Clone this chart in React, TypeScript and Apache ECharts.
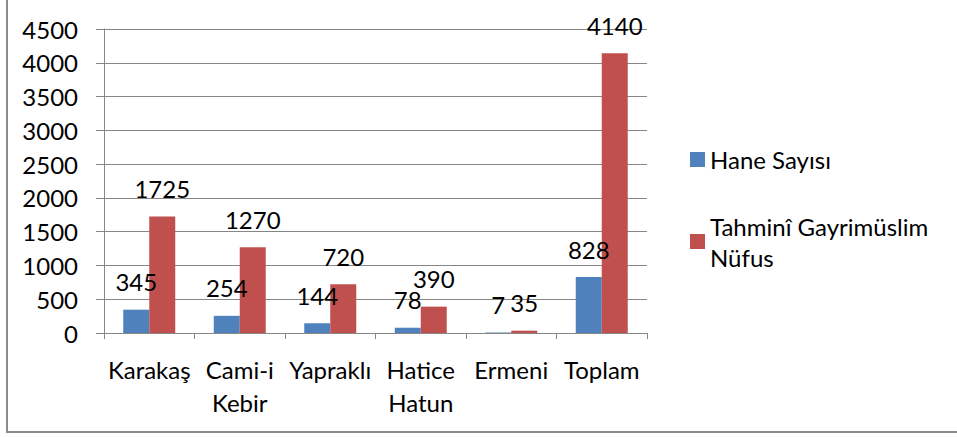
import React, { useEffect, useRef } from "react";
import * as echarts from "echarts";

const categories = ["Karakaş", "Cami-i Kebir", "Yapraklı", "Hatice Hatun", "Ermeni", "Toplam"];
const seriesNames = ["Hane Sayısı", "Tahminî Gayrimüslim Nüfus"];
const haneSayisi = [345, 254, 144, 78, 7, 828];
const nufus = [1725, 1270, 720, 390, 35, 4140];
const yTicks = { min: 0, max: 4500, interval: 500 };

const FONT = "Lato";
const FS = 24;
const GRID_COLOR = "#868686";

export default function App() {
  const ref = useRef<HTMLDivElement>(null);
  useEffect(() => {
    if (!ref.current) return;
    const chart = echarts.init(ref.current, undefined, { renderer: "svg" });
    const labelStyle = {
      show: true,
      position: "top" as const,
      distance: 16,
      color: "#000",
      fontFamily: FONT,
      fontSize: FS,
      lineHeight: 24,
    };
    chart.setOption({
      animation: false,
      backgroundColor: "#fff",
      textStyle: { fontFamily: FONT },
      grid: { left: 104, right: 310, top: 29, bottom: 104 },
      xAxis: {
        type: "category",
        data: categories,
        axisLine: { show: true, lineStyle: { color: GRID_COLOR, width: 1 } },
        axisTick: { show: true, length: 6, lineStyle: { color: GRID_COLOR } },
        axisLabel: {
          interval: 0,
          margin: 20,
          color: "#000",
          fontFamily: FONT,
          fontSize: FS,
          lineHeight: 33,
          formatter: (v: string) => v.replace(" ", "\n"),
        },
      },
      yAxis: {
        type: "value",
        min: yTicks.min,
        max: yTicks.max,
        interval: yTicks.interval,
        axisLine: { show: true, lineStyle: { color: GRID_COLOR, width: 1 } },
        axisTick: { show: true, length: 8, lineStyle: { color: GRID_COLOR } },
        splitLine: { show: true, lineStyle: { color: GRID_COLOR, width: 1 } },
        axisLabel: {
          margin: 26,
          color: "#000",
          fontFamily: FONT,
          fontSize: FS,
          formatter: (v: number) => String(v),
        },
      },
      legend: [
        {
          data: [seriesNames[0]],
          orient: "vertical",
          left: 690,
          top: 147.5,
          padding: 0,
          itemWidth: 15,
          itemHeight: 15,
          itemGap: 0,
          icon: "rect",
          textStyle: { color: "#000", fontFamily: FONT, fontSize: FS, lineHeight: 24 },
        },
        {
          data: [seriesNames[1]],
          orient: "vertical",
          left: 690,
          top: 195,
          padding: 0,
          itemWidth: 15,
          itemHeight: 15,
          itemGap: 0,
          icon: "rect",
          formatter: () => "Tahminî Gayrimüslim\nNüfus",
          textStyle: {
            color: "#000",
            fontFamily: FONT,
            fontSize: FS,
            lineHeight: 31,
            padding: [31, 0, 0, 0],
          },
        },
      ],
      series: [
        {
          name: seriesNames[0],
          type: "bar",
          data: haneSayisi,
          barWidth: 26,
          barGap: "0%",
          itemStyle: { color: "#4F81BD" },
          label: labelStyle,
        },
        {
          name: seriesNames[1],
          type: "bar",
          data: nufus,
          barWidth: 26,
          barGap: "0%",
          itemStyle: { color: "#C0504D" },
          label: labelStyle,
        },
      ],
      graphic: [
        {
          type: "line",
          shape: { x1: 7, y1: 0, x2: 7, y2: 433 },
          style: { stroke: "#8c8c8c", lineWidth: 2 },
        },
        {
          type: "line",
          shape: { x1: 6, y1: 432, x2: 957, y2: 432 },
          style: { stroke: "#8c8c8c", lineWidth: 2 },
        },
      ],
    });
    return () => chart.dispose();
  }, []);
  return (
    <div
      ref={ref}
      style={{ position: "fixed", left: 0, top: 0, width: 957, height: 437 }}
    />
  );
}
